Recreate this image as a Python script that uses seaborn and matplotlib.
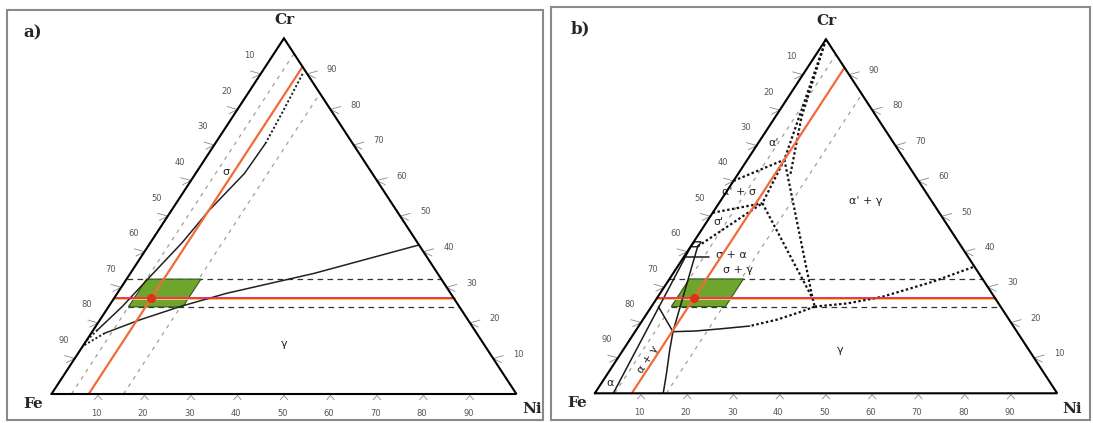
import numpy as np
import pandas as pd
import matplotlib
matplotlib.use("Agg")
import matplotlib.pyplot as plt
import seaborn as sns
from matplotlib.patches import Polygon, Rectangle

# ---------------- data (ternary compositions, wt.% Ni / Cr) ----------------
tick_values = [10, 20, 30, 40, 50, 60, 70, 80, 90]
corner_labels = ["Fe", "Ni", "Cr"]

pink_cr = 27            # horizontal Cr line
orange_ni = 8           # constant Ni line
ref_point = (8, 27)     # red dot (Ni, Cr)
window_ni = [4.3, 16]   # green window
window_cr = [24.5, 32.3]
guide_ni = [4.3, 15.5]  # grey dashed constant-Ni guides

# panel a) phase boundaries
a_sigma_ni = [9, 10, 10.8, 10.5, 8.1, 6.8, 4.7, 2.9, 0.9, 0]
a_sigma_cr = [90, 80, 70.5, 62, 51.7, 42.4, 33, 24.5, 18, 15]
a_gamma_ni = [58.1, 39.5, 23.5, 15.6, 8.5, 2.9, 0]
a_gamma_cr = [41.9, 33.9, 28.3, 24.7, 20.8, 17.1, 13.5]
a_labels = ["σ", "γ"]
a_label_ni = [6.3, 43]
a_label_cr = [62.5, 14]

# panel b) phase boundaries (Ni, Cr)
b_apex_p1_ni = [0, 8];          b_apex_p1_cr = [100, 66]
b_apex_q_ni = [0, 5.7, 11.5];   b_apex_q_cr = [100, 78, 61.5]
b_p1q_ni = [8, 33.7];           b_p1q_cr = [66, 26.8]
b_p1_edge_ni = [0, 8];          b_p1_edge_cr = [60, 66]
b_p1_p2_ni = [8, 9.4];          b_p1_p2_cr = [66, 53.7]
b_p2_edge_ni = [0, 9.4];        b_p2_edge_cr = [51, 53.7]
b_p2_box_ni = [1.5, 9.4];       b_p2_box_cr = [41.5, 53.7]
b_p2_q_ni = [9.4, 33.7];        b_p2_q_cr = [53.7, 26.8]
b_q1_q2_ni = [33.7, 35.3];      b_q1_q2_cr = [26.8, 24.5]
b_right_ni = [35.3, 42, 48.6, 57.3, 64.2]
b_right_cr = [24.5, 25.4, 27.3, 31.5, 35.8]
b_low_dot_ni = [35.3, 33, 29, 24]
b_low_dot_cr = [24.5, 23, 20.8, 19]
b_low_sol_ni = [24, 18, 13, 8.2]
b_low_sol_cr = [19, 18.2, 17.6, 17.4]
b_gamma_ni = [14.8, 12.7, 10.1, 8.2]
b_gamma_cr = [0, 5.6, 12.2, 17.4]
b_r_box_ni = [8.2, 1.5];        b_r_box_cr = [17.4, 41.5]
b_s_r_ni = [1.5, 8.2];          b_s_r_cr = [24.5, 17.4]
b_alpha_ni = [4, 0];            b_alpha_cr = [0, 42]
b_box_ni = [0, 1.6, 1.6, 0.2];  b_box_cr = [41.4, 41.4, 42.8, 42.8]
b_bar_ni = [0.4, 5.5];          b_bar_cr = [38.6, 38.6]
b_labels = ["α'", "α' + σ", "σ'", "σ + α", "σ + γ", "α' + γ", "γ", "α"]
b_label_ni = [3.4, 2.6, 2.5, 10, 13.5, 31.5, 47, 1.9]
b_label_cr = [70.6, 57, 48.5, 39, 34.8, 54.3, 12.2, 3]

# ---------------- helpers ----------------
def tx(ni, cr):
    ni = np.asarray(ni, float); cr = np.asarray(cr, float)
    return ni / 100 + cr / 200, cr / 100

DOT = (0, (1.1, 1.1))
DASH = (0, (4.5, 3.5))
GDASH = (0, (3, 4))

def curve(ax, ni, cr, **kw):
    x, y = tx(ni, cr)
    df = pd.DataFrame({"x": x, "y": y, "o": np.arange(len(x))})
    sns.lineplot(data=df, x="x", y="y", sort=False, estimator=None,
                 legend=False, ax=ax, **kw)

def panel(ax, xlim, ylim):
    ax.set_xlim(*xlim); ax.set_ylim(*ylim)
    ax.axis("off")
    for g in guide_ni:
        curve(ax, [g, g], [0, 100 - g], color="#a0a090", lw=0.9, linestyle=GDASH)
    curve(ax, [0, 100 - window_cr[1]], [window_cr[1], window_cr[1]],
          color="#333333", lw=0.9, linestyle=DASH)
    curve(ax, [window_ni[0], 100 - window_cr[0]], [window_cr[0], window_cr[0]],
          color="#333333", lw=0.9, linestyle=DASH)
    px, py = tx([window_ni[0], window_ni[1], window_ni[1], window_ni[0]],
                [window_cr[0], window_cr[0], window_cr[1], window_cr[1]])
    ax.add_patch(Polygon(np.column_stack([px, py]), closed=True,
                         facecolor="#6ea52c", edgecolor="#35581c", lw=0.8, zorder=3))
    curve(ax, [0, 100 - pink_cr], [pink_cr, pink_cr], color="#f5d020", lw=2.2, zorder=4)
    curve(ax, [0, 100 - pink_cr], [pink_cr, pink_cr], color="#e0287d", lw=1.3, zorder=5)
    curve(ax, [orange_ni, orange_ni], [0, 100 - orange_ni], color="#f26a3a", lw=1.6, zorder=5)
    x0, y0 = tx(*ref_point)
    ax.scatter([x0], [y0], s=30, color="#e0301c", zorder=6)
    tri_x, tri_y = tx([0, 100, 0, 0], [0, 0, 100, 0])
    ax.plot(tri_x, tri_y, color="black", lw=1.5, zorder=7, solid_joinstyle="miter")
    for v in tick_values:
        bx, by = tx(v, 0)
        ax.plot([bx - 0.008, bx, bx + 0.008], [-0.016, -0.004, -0.016], color="#888", lw=0.6)
        ax.annotate(str(v), (bx, by), xytext=(-1, -14), textcoords="offset points",
                    ha="center", va="center", fontsize=6, color="#555")
        lx, ly = tx(0, 100 - v)
        ax.plot([lx - 0.022, lx, lx - 0.018], [ly + 0.008, ly, ly - 0.012], color="#888", lw=0.6)
        ax.annotate(str(v), (lx, ly), xytext=(-8, 13), textcoords="offset points",
                    ha="center", va="center", fontsize=6, color="#555")
        rx, ry = tx(100 - v, v)
        ax.plot([rx + 0.022, rx, rx + 0.018], [ry + 0.008, ry, ry - 0.012], color="#888", lw=0.6)
        ax.annotate(str(v), (rx, ry), xytext=(18, 3), textcoords="offset points",
                    ha="center", va="center", fontsize=6, color="#555")
    fnt = dict(fontsize=11, fontweight="bold", family="DejaVu Serif", ha="center", va="center")
    ax.annotate(corner_labels[0], tx(0, 0), xytext=(-13, -7), textcoords="offset points", **fnt)
    ax.annotate(corner_labels[1], tx(100, 0), xytext=(11, -11), textcoords="offset points", **fnt)
    ax.annotate(corner_labels[2], tx(0, 100), xytext=(0, 13), textcoords="offset points", **fnt)

sns.set_theme(style="white")
plt.rcParams["font.family"] = ["DejaVu Sans"]

fig = plt.figure(figsize=(10.93, 4.23), dpi=100)
ax_a = fig.add_axes([0, 0, 546 / 1093, 1])
ax_b = fig.add_axes([546 / 1093, 0, 547 / 1093, 1])

panel(ax_a, (-51.5 / 464.9, (546 - 51.5) / 464.9), (-29 / 355.7, 394 / 355.7))
panel(ax_b, (-48.8 / 462.4, (547 - 48.8) / 462.4), (-29.7 / 354, 393.3 / 354))

# panel a) boundaries
curve(ax_a, a_sigma_ni[:3], a_sigma_cr[:3], color="#222", lw=1.4, linestyle=DOT, zorder=4)
curve(ax_a, a_sigma_ni[2:9], a_sigma_cr[2:9], color="#222", lw=1.1, zorder=4)
curve(ax_a, a_sigma_ni[8:], a_sigma_cr[8:], color="#222", lw=1.4, linestyle=DOT, zorder=4)
curve(ax_a, a_gamma_ni[:6], a_gamma_cr[:6], color="#222", lw=1.1, zorder=4)
curve(ax_a, a_gamma_ni[5:], a_gamma_cr[5:], color="#222", lw=1.4, linestyle=DOT, zorder=4)
for t, n, c in zip(a_labels, a_label_ni, a_label_cr):
    x, y = tx(n, c)
    ax_a.text(x, y, t, fontsize=8, ha="center", va="center", color="#222")

# panel b) boundaries
dotted = [(b_apex_p1_ni, b_apex_p1_cr), (b_apex_q_ni, b_apex_q_cr), (b_p1q_ni, b_p1q_cr),
          (b_p1_edge_ni, b_p1_edge_cr), (b_p1_p2_ni, b_p1_p2_cr), (b_p2_edge_ni, b_p2_edge_cr),
          (b_p2_box_ni, b_p2_box_cr), (b_p2_q_ni, b_p2_q_cr), (b_q1_q2_ni, b_q1_q2_cr),
          (b_right_ni, b_right_cr), (b_low_dot_ni, b_low_dot_cr)]
for n, c in dotted:
    curve(ax_b, n, c, color="#111111", lw=1.6, linestyle=DOT, zorder=4)
solid = [(b_low_sol_ni, b_low_sol_cr), (b_gamma_ni, b_gamma_cr), (b_r_box_ni, b_r_box_cr),
         (b_s_r_ni, b_s_r_cr), (b_alpha_ni, b_alpha_cr), (b_bar_ni, b_bar_cr)]
for n, c in solid:
    curve(ax_b, n, c, color="#1a1a1a", lw=1.1, zorder=4)
bx, by = tx(b_box_ni, b_box_cr)
ax_b.add_patch(Polygon(np.column_stack([bx, by]), closed=True, fill=False,
                       edgecolor="#1a1a1a", lw=1.0, zorder=4))
for t, n, c in zip(b_labels, b_label_ni, b_label_cr):
    x, y = tx(n, c)
    ax_b.text(x, y, t, fontsize=8, ha="center", va="center", color="#222")
x, y = tx(6.8, 9.4)
ax_b.text(x, y, "α + γ", fontsize=8, ha="center", va="center", color="#222", rotation=57)

# panel labels and frames
lab = dict(fontsize=12, fontweight="bold", family="DejaVu Serif", ha="center", va="center")
fig.text(33 / 1093, 1 - 33 / 423, "a)", **lab)
fig.text(580 / 1093, 1 - 29 / 423, "b)", **lab)
fig.patches.append(Rectangle((7 / 1093, 3 / 423), 536 / 1093, 410 / 423, fill=False,
                             edgecolor="#8a8a8a", lw=1.5, transform=fig.transFigure))
fig.patches.append(Rectangle((551 / 1093, 3 / 423), 539 / 1093, 413 / 423, fill=False,
                             edgecolor="#8a8a8a", lw=1.5, transform=fig.transFigure))

fig.savefig("out.png", dpi=100, facecolor="white")
